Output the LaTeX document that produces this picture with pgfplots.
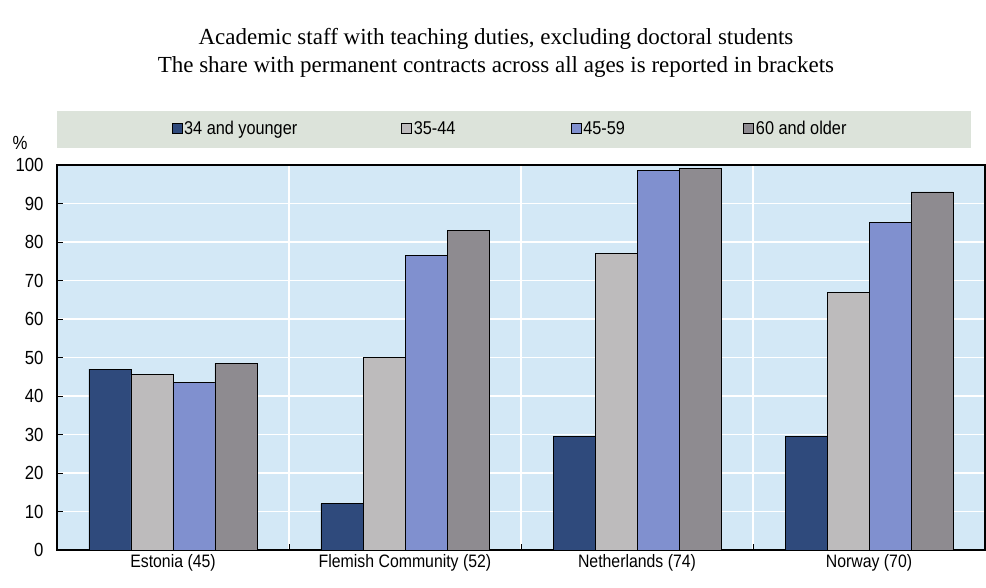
\documentclass[border=0pt]{standalone}
\usepackage{pgfplots}
\pgfplotsset{compat=1.18}
\usepackage{fontspec}
\setmainfont{Liberation Sans}[FakeStretch=0.88]
\newfontfamily\titlefont{Liberation Serif}
\definecolor{cA}{HTML}{2F4A7C}
\definecolor{cB}{HTML}{BDBBBC}
\definecolor{cC}{HTML}{8090CF}
\definecolor{cD}{HTML}{8E8B90}
\definecolor{bgblue}{HTML}{D3E8F6}
\definecolor{legbg}{HTML}{DCE3DA}
\pgfplotstableread{
x a b c d
0 47 45.5 43.5 48.5
1 12 50 76.5 83
2 29.5 77 98.5 99
3 29.5 67 85 93
}\datatable
\begin{document}
\begin{tikzpicture}
\begin{axis}[
  scale only axis, width=928pt, height=385pt,
  ybar, bar width=42pt,
  xmin=-0.5, xmax=3.5, ymin=0, ymax=100,
  xtick={0,1,2,3},
  xticklabels={Estonia (45),Flemish Community (52),Netherlands (74),Norway (70)},
  major x tick style={draw=none},
  minor xtick={0.5,1.5,2.5},
  minor x tick style={black, thick},
  minor tick length=6pt,
  xminorgrids, minor grid style={white, line width=1.2pt},
  ytick={0,10,...,100},
  ymajorgrids, major grid style={white, line width=1.2pt},
  major y tick style={black, thick},
  major tick length=6pt,
  tick pos=left, tick align=inside,
  axis line style={black, line width=1.2pt},
  axis background/.style={fill=bgblue},
  /pgf/number format/assume math mode=true,
  tick label style={font=\fontsize{19}{21}\selectfont},
  xticklabel style={font=\fontsize{18}{20}\selectfont, yshift=-1pt},
  yticklabel style={xshift=-10pt},
  legend columns=4,
  legend style={at={(0.12,1.095)}, anchor=west, draw=none, fill=none,
    font=\fontsize{18.5}{20}\selectfont, /tikz/every even column/.append style={column sep=0pt}},
  legend image code/.code={\draw[#1, draw=black, line width=0.6pt] (0pt,-5pt) rectangle (10pt,5pt);},
  legend cell align=left,
  clip=false,
]
\fill[legbg] (axis description cs:0,1.045) rectangle (axis description cs:0.985,1.14);
\addplot+[ybar, bar shift=-63pt, fill=cA, draw=black, line width=0.8pt] table[x=x,y=a]{\datatable};
\addlegendentry{\makebox[215pt][l]{34 and younger}}
\addplot+[ybar, bar shift=-21pt, fill=cB, draw=black, line width=0.8pt] table[x=x,y=b]{\datatable};
\addlegendentry{\makebox[155pt][l]{35-44}}
\addplot+[ybar, bar shift=21pt, fill=cC, draw=black, line width=0.8pt] table[x=x,y=c]{\datatable};
\addlegendentry{\makebox[158pt][l]{45-59}}
\addplot+[ybar, bar shift=63pt, fill=cD, draw=black, line width=0.8pt] table[x=x,y=d]{\datatable};
\addlegendentry{60 and older}
\node[anchor=base, font=\titlefont\fontsize{23}{26}\selectfont] at ([yshift=120pt]axis description cs:0.473,1) {Academic staff with teaching duties, excluding doctoral students};
\node[anchor=base, font=\titlefont\fontsize{23}{26}\selectfont] at ([yshift=92pt]axis description cs:0.473,1) {The share with permanent contracts across all ages is reported in brackets};
\node[anchor=center, font=\fontsize{19}{21}\selectfont] at ([xshift=-37pt,yshift=22pt]axis description cs:0,1) {\%};
\end{axis}
\path ([xshift=-57pt,yshift=-37pt]current axis.south west) rectangle ++(986pt,587pt);
\end{tikzpicture}
\end{document}
